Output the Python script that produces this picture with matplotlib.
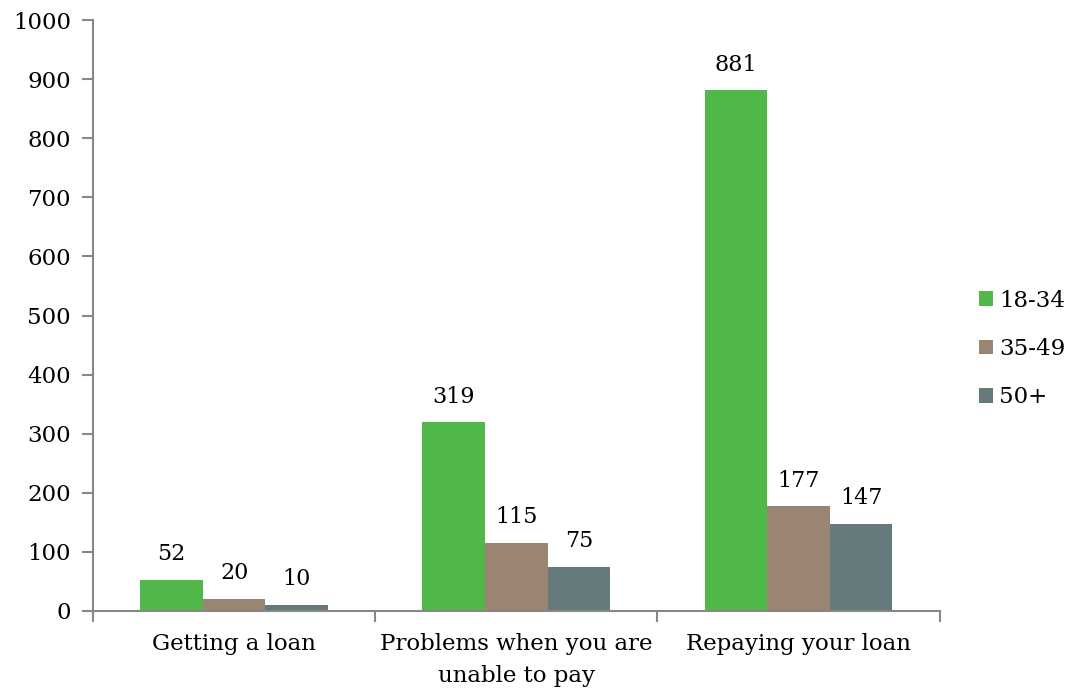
import matplotlib.pyplot as plt
import numpy as np

categories = ["Getting a loan", "Problems when you are\nunable to pay", "Repaying your loan"]
series = ["18-34", "35-49", "50+"]
values_18_34 = [52, 319, 881]
values_35_49 = [20, 115, 177]
values_50 = [10, 75, 147]
colors = ["#50b848", "#9a8472", "#66797c"]

plt.rcParams['font.family'] = ['DejaVu Serif']

fig = plt.figure(figsize=(10.73, 6.9), dpi=100)
ax = fig.add_axes([0.0867, 0.1145, 0.789, 0.8565])

x = np.arange(len(categories))
w = 0.222
all_vals = [values_18_34, values_35_49, values_50]
for i, (vals, name, c) in enumerate(zip(all_vals, series, colors)):
    bars = ax.bar(x + (i - 1) * w, vals, w, color=c, label=name, zorder=2)
    for b, v in zip(bars, vals):
        ax.text(b.get_x() + b.get_width() / 2, v + 25, str(v), ha="center", va="bottom", fontsize=16)

ax.set_xlim(-0.5, 2.5)
ax.set_ylim(0, 1000)
ax.set_yticks(range(0, 1001, 100))
ax.tick_params(axis="y", labelsize=16.5, length=8, width=1.5, color="#888888", pad=8)
ax.set_xticks([-0.5, 0.5, 1.5, 2.5])
ax.set_xticklabels([])
ax.set_xticks(x, minor=True)
ax.set_xticklabels(categories, minor=True, fontsize=16.5, linespacing=1.55)
ax.tick_params(axis="x", which="major", length=8, width=1.5, color="#888888")
ax.tick_params(axis="x", which="minor", length=0, pad=16)

for s in ["top", "right"]:
    ax.spines[s].set_visible(False)
for s in ["left", "bottom"]:
    ax.spines[s].set_color("#888888")
    ax.spines[s].set_linewidth(1.5)

fig.legend(loc="center left", bbox_to_anchor=(0.893, 0.494), frameon=False, fontsize=16.5,
           handlelength=0.6, handleheight=0.6, handletextpad=0.3, labelspacing=1.15)

fig.savefig("out.png", dpi=100)
